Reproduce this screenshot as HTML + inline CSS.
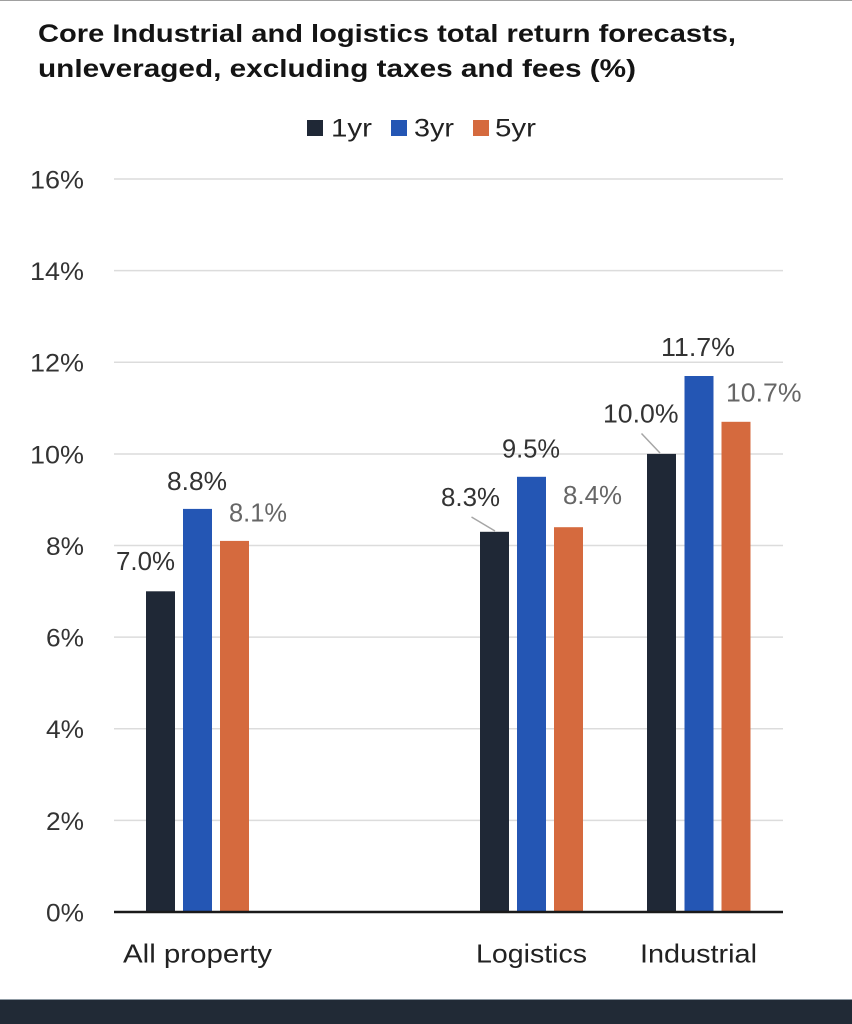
<!DOCTYPE html>
<html>
<head>
<meta charset="utf-8">
<style>
  html,body{margin:0;padding:0;background:#fff;}
  svg{display:block;}
  text{font-family:"Liberation Sans", sans-serif;}
</style>
</head>
<body>
<svg width="852" height="1024" viewBox="0 0 852 1024" xmlns="http://www.w3.org/2000/svg">
  <rect x="0" y="0" width="852" height="1024" fill="#ffffff"/>
  <rect x="0" y="0" width="852" height="1" fill="#a0a0a0"/>

  <!-- Title -->
  <text x="38" y="42" font-size="25" font-weight="bold" fill="#141414" textLength="698" lengthAdjust="spacingAndGlyphs">Core Industrial and logistics total return forecasts,</text>
  <text x="38" y="77" font-size="25" font-weight="bold" fill="#141414" textLength="598" lengthAdjust="spacingAndGlyphs">unleveraged, excluding taxes and fees (%)</text>

  <!-- Legend -->
  <rect x="307" y="120" width="16" height="16" fill="#1f2836"/>
  <text x="331" y="136.5" font-size="25" fill="#222" textLength="41" lengthAdjust="spacingAndGlyphs">1yr</text>
  <rect x="391" y="120" width="16" height="16" fill="#2456b4"/>
  <text x="414" y="136.5" font-size="25" fill="#222" textLength="40" lengthAdjust="spacingAndGlyphs">3yr</text>
  <rect x="473" y="120" width="16" height="16" fill="#d56a3e"/>
  <text x="495" y="136.5" font-size="25" fill="#222" textLength="41" lengthAdjust="spacingAndGlyphs">5yr</text>

  <!-- Gridlines -->
  <g stroke="#dcdcdc" stroke-width="1.5">
    <line x1="114" y1="179" x2="783" y2="179"/>
    <line x1="114" y1="270.6" x2="783" y2="270.6"/>
    <line x1="114" y1="362.3" x2="783" y2="362.3"/>
    <line x1="114" y1="454" x2="783" y2="454"/>
    <line x1="114" y1="545.5" x2="783" y2="545.5"/>
    <line x1="114" y1="637.1" x2="783" y2="637.1"/>
    <line x1="114" y1="728.8" x2="783" y2="728.8"/>
    <line x1="114" y1="820.4" x2="783" y2="820.4"/>
  </g>

  <!-- Y labels -->
  <g font-size="25" fill="#333">
    <text x="30" y="188.3" textLength="54" lengthAdjust="spacingAndGlyphs">16%</text>
    <text x="30" y="280" textLength="54" lengthAdjust="spacingAndGlyphs">14%</text>
    <text x="30" y="371.6" textLength="54" lengthAdjust="spacingAndGlyphs">12%</text>
    <text x="30" y="463.3" textLength="54" lengthAdjust="spacingAndGlyphs">10%</text>
    <text x="46" y="554.9" textLength="38" lengthAdjust="spacingAndGlyphs">8%</text>
    <text x="46" y="646.5" textLength="38" lengthAdjust="spacingAndGlyphs">6%</text>
    <text x="46" y="738.2" textLength="38" lengthAdjust="spacingAndGlyphs">4%</text>
    <text x="46" y="829.8" textLength="38" lengthAdjust="spacingAndGlyphs">2%</text>
    <text x="46" y="921.4" textLength="38" lengthAdjust="spacingAndGlyphs">0%</text>
  </g>

  <!-- Bars: All property -->
  <rect x="146" y="591.3" width="29" height="320.7" fill="#1f2836"/>
  <rect x="183" y="508.9" width="29" height="403.1" fill="#2456b4"/>
  <rect x="220" y="540.9" width="29" height="371.1" fill="#d56a3e"/>
  <!-- Logistics -->
  <rect x="480" y="531.8" width="29" height="380.2" fill="#1f2836"/>
  <rect x="517" y="476.8" width="29" height="435.2" fill="#2456b4"/>
  <rect x="554" y="527.2" width="29" height="384.8" fill="#d56a3e"/>
  <!-- Industrial -->
  <rect x="647" y="453.9" width="29" height="458.1" fill="#1f2836"/>
  <rect x="684.5" y="376" width="29" height="536" fill="#2456b4"/>
  <rect x="721.5" y="421.8" width="29" height="490.2" fill="#d56a3e"/>

  <!-- Axis -->
  <line x1="114" y1="912" x2="783" y2="912" stroke="#1a1a1a" stroke-width="2.5"/>

  <!-- Leader lines -->
  <line x1="471.5" y1="517" x2="495" y2="531" stroke="#a6a6a6" stroke-width="1.5"/>
  <line x1="641.5" y1="433.5" x2="660" y2="453" stroke="#a6a6a6" stroke-width="1.5"/>

  <!-- Data labels -->
  <g font-size="26">
    <text x="116" y="570" fill="#333" textLength="59" lengthAdjust="spacingAndGlyphs">7.0%</text>
    <text x="167" y="490" fill="#333" textLength="60" lengthAdjust="spacingAndGlyphs">8.8%</text>
    <text x="229" y="521.7" fill="#666" textLength="58" lengthAdjust="spacingAndGlyphs">8.1%</text>
    <text x="441" y="506" fill="#333" textLength="59" lengthAdjust="spacingAndGlyphs">8.3%</text>
    <text x="502" y="457.7" fill="#333" textLength="58" lengthAdjust="spacingAndGlyphs">9.5%</text>
    <text x="563" y="504" fill="#666" textLength="59" lengthAdjust="spacingAndGlyphs">8.4%</text>
    <text x="603" y="422.7" fill="#333" textLength="75.5" lengthAdjust="spacingAndGlyphs">10.0%</text>
    <text x="661" y="356" fill="#333" textLength="74" lengthAdjust="spacingAndGlyphs">11.7%</text>
    <text x="726" y="401.7" fill="#666" textLength="75.5" lengthAdjust="spacingAndGlyphs">10.7%</text>
  </g>

  <!-- Category labels -->
  <g font-size="26" fill="#222">
    <text x="123" y="962.7" textLength="149" lengthAdjust="spacingAndGlyphs">All property</text>
    <text x="476" y="962.7" textLength="111" lengthAdjust="spacingAndGlyphs">Logistics</text>
    <text x="640" y="962.7" textLength="117" lengthAdjust="spacingAndGlyphs">Industrial</text>
  </g>

  <!-- Bottom band -->
  <rect x="0" y="999" width="852" height="1" fill="#8f9aa3"/>
  <rect x="0" y="1000" width="852" height="24" fill="#212a36"/>
</svg>
</body>
</html>
